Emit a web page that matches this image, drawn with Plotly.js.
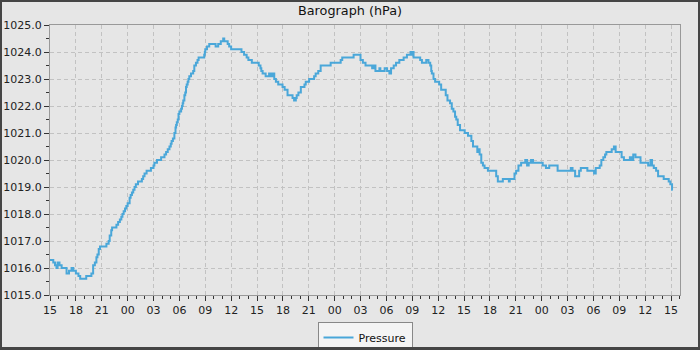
<!DOCTYPE html>
<html>
<head>
<meta charset="utf-8">
<script src="https://cdn.plot.ly/plotly-3.0.1.min.js"></script>
<style>
  html, body { margin: 0; padding: 0; background: #e6e6e6; }
  #wrap { position: relative; width: 700px; height: 350px; }
  #chart { width: 700px; height: 350px; }
  #frame { position: absolute; left: 0; top: 0; width: 700px; height: 350px; box-sizing: border-box;
           border-style: solid; border-color: #454545; border-width: 2px 2px 3px 2px; pointer-events: none; }
</style>
</head>
<body>
<div id="wrap"><div id="chart"></div><div id="frame"></div></div>
<script>
// Hours elapsed since the first sample (15:00 on day 1)
const hours = [
  0, 0.38, 0.58, 0.75, 0.88, 1.1, 1.35, 1.92, 2.2, 2.5, 2.7, 3.0, 3.3, 3.5, 4.2, 4.8, 5.0, 5.2, 5.38, 5.5,
  5.65, 5.8, 6.54, 6.8, 6.92, 7.1, 7.2, 7.7, 7.9, 8.1, 8.27, 8.4, 8.54, 8.7, 8.85, 9.0, 9.23, 9.35, 9.5, 9.65,
  9.8, 9.95, 10.2, 10.65, 10.8, 10.96, 11.2, 11.7, 12.0, 12.1, 12.4, 12.88, 13.27, 13.46, 13.65, 13.85, 14.0, 14.1, 14.25, 14.42,
  14.55, 14.62, 14.7, 14.81, 14.9, 15.0, 15.2, 15.3, 15.38, 15.45, 15.58, 15.68, 15.77, 15.85, 15.96, 16.05, 16.15, 16.35, 16.6, 16.73,
  16.92, 17.1, 17.23, 17.88, 17.95, 18.0, 18.2, 18.46, 19.2, 19.5, 19.8, 20.08, 20.2, 20.6, 20.77, 21.0, 22.2, 22.5, 22.8, 23.0,
  23.4, 24.2, 24.4, 24.5, 24.65, 25.0, 25.4, 25.6, 25.8, 26.0, 26.19, 26.46, 26.96, 27.2, 27.54, 28.12, 28.3, 28.5, 28.6, 28.8,
  29.08, 29.5, 29.65, 30.04, 30.62, 30.8, 31.1, 31.38, 32.54, 33.7, 33.88, 34.46, 35.2, 36.0, 36.27, 36.58, 37.35, 37.5, 37.73, 38.19,
  38.3, 38.8, 39.08, 39.35, 39.54, 39.85, 40.12, 40.5, 41.0, 41.38, 41.8, 42.0, 42.1, 42.15, 42.92, 43.12, 43.62, 43.88, 44.08, 44.2,
  44.27, 44.46, 44.65, 45.12, 45.35, 45.88, 46.08, 46.38, 46.58, 46.77, 46.96, 47.1, 47.27, 47.54, 48.08, 48.46, 48.85, 49.04, 49.54, 49.65,
  49.81, 50.0, 50.19, 50.38, 50.77, 51.35, 51.73, 51.92, 52.5, 53.2, 53.3, 53.85, 54.04, 54.31, 54.62, 55.1, 55.31, 55.5, 55.77, 56.0,
  57.12, 57.5, 57.88, 58.85, 60.38, 60.58, 60.88, 61.35, 61.54, 62.3, 63.08, 63.27, 63.73, 63.92, 64.15, 64.35, 64.5, 65.12, 65.38, 65.58,
  66.27, 66.54, 67.23, 67.42, 67.62, 67.88, 68.46, 69.35, 69.62, 69.8, 70.0, 70.27, 70.5, 71.15, 71.73, 71.92, 72.12, 72.2
];
const pressure = [
  1016.3, 1016.2, 1016.1, 1016.0, 1016.2, 1016.1, 1016.0, 1015.8, 1015.9, 1016.0, 1015.9, 1015.8, 1015.7, 1015.6, 1015.7, 1015.8, 1016.1, 1016.2, 1016.4, 1016.5,
  1016.7, 1016.8, 1016.9, 1017.0, 1017.2, 1017.4, 1017.5, 1017.6, 1017.7, 1017.8, 1017.9, 1018.0, 1018.1, 1018.2, 1018.3, 1018.4, 1018.6, 1018.7, 1018.8, 1018.9,
  1019.0, 1019.1, 1019.2, 1019.3, 1019.4, 1019.5, 1019.6, 1019.7, 1019.8, 1019.9, 1020.0, 1020.1, 1020.2, 1020.3, 1020.4, 1020.5, 1020.6, 1020.7, 1020.8, 1021.0,
  1021.2, 1021.3, 1021.4, 1021.5, 1021.7, 1021.8, 1021.9, 1022.0, 1022.1, 1022.2, 1022.4, 1022.5, 1022.7, 1022.8, 1022.9, 1023.0, 1023.1, 1023.2, 1023.3, 1023.5,
  1023.6, 1023.7, 1023.8, 1023.9, 1024.0, 1024.1, 1024.2, 1024.3, 1024.2, 1024.3, 1024.4, 1024.5, 1024.4, 1024.3, 1024.2, 1024.1, 1024.0, 1023.9, 1023.8, 1023.7,
  1023.6, 1023.5, 1023.4, 1023.3, 1023.2, 1023.1, 1023.2, 1023.1, 1023.2, 1023.0, 1022.9, 1022.8, 1022.7, 1022.6, 1022.4, 1022.3, 1022.2, 1022.3, 1022.4, 1022.5,
  1022.7, 1022.8, 1022.9, 1023.0, 1023.1, 1023.2, 1023.3, 1023.5, 1023.6, 1023.7, 1023.8, 1023.8, 1023.9, 1023.7, 1023.6, 1023.5, 1023.4, 1023.5, 1023.3, 1023.4,
  1023.3, 1023.4, 1023.3, 1023.2, 1023.4, 1023.5, 1023.6, 1023.7, 1023.8, 1023.9, 1024.0, 1023.9, 1024.0, 1023.8, 1023.7, 1023.6, 1023.7, 1023.6, 1023.5, 1023.3,
  1023.2, 1023.0, 1022.9, 1022.8, 1022.6, 1022.4, 1022.2, 1022.1, 1021.9, 1021.8, 1021.6, 1021.5, 1021.3, 1021.1, 1021.0, 1020.9, 1020.7, 1020.5, 1020.3, 1020.4,
  1020.2, 1019.9, 1019.8, 1019.7, 1019.6, 1019.6, 1019.4, 1019.2, 1019.3, 1019.2, 1019.3, 1019.5, 1019.6, 1019.8, 1019.9, 1020.0, 1019.8, 1019.9, 1020.0, 1019.9,
  1019.8, 1019.7, 1019.8, 1019.6, 1019.7, 1019.6, 1019.4, 1019.6, 1019.7, 1019.6, 1019.5, 1019.7, 1019.8, 1020.0, 1020.1, 1020.2, 1020.3, 1020.4, 1020.5, 1020.3,
  1020.1, 1020.0, 1020.1, 1020.0, 1020.2, 1020.1, 1019.9, 1019.8, 1020.0, 1019.8, 1019.7, 1019.6, 1019.4, 1019.3, 1019.2, 1019.1, 1018.9, 1018.9
];
const seriesName = 'Pressure';
const chartTitle = 'Barograph (hPa)';

const HOUR = 3600000;
const start = Date.UTC(2024, 0, 1, 15, 0, 0);
const xTimes = hours.map(h => start + h * HOUR);

const trace = {
  type: 'scatter', mode: 'lines', name: seriesName,
  x: xTimes, y: pressure,
  line: { color: '#4aa7d9', width: 2, shape: 'hv' },
  showlegend: true
};

const axisFont = { family: 'DejaVu Sans', size: 11, color: '#222' };
const layout = {
  width: 700, height: 350,
  margin: { l: 50, r: 20, t: 25, b: 55, autoexpand: false },
  paper_bgcolor: '#e6e6e6', plot_bgcolor: '#e6e6e6',
  font: { family: 'DejaVu Sans', size: 11, color: '#222' },
  title: { text: chartTitle, font: { family: 'DejaVu Sans', size: 12.8, color: '#111' },
           x: 0.5, xanchor: 'center', yref: 'container', y: 1 - 11 / 350, yanchor: 'middle' },
  xaxis: {
    type: 'date', range: [start, start + 73.04 * HOUR],
    tick0: start, dtick: 3 * HOUR, tickformat: '%H',
    ticks: 'outside', ticklen: 5, tickcolor: '#333', tickfont: axisFont,
    showline: true, linecolor: '#999', linewidth: 1, mirror: true,
    showgrid: true, gridcolor: '#c2c2c2', griddash: '4px,3px', gridwidth: 1,
    zeroline: false, automargin: false,
    minor: { dtick: HOUR, tick0: start, ticks: 'outside', ticklen: 3, tickcolor: '#333', showgrid: false }
  },
  yaxis: {
    range: [1015, 1025], dtick: 1, tick0: 1015, tickformat: '.1f',
    ticks: 'outside', ticklen: 5, tickcolor: '#333', tickfont: axisFont,
    showline: true, linecolor: '#999', linewidth: 1, mirror: true,
    showgrid: true, gridcolor: '#c2c2c2', griddash: '4px,3px', gridwidth: 1,
    zeroline: false, automargin: false,
    minor: { dtick: 0.5, ticks: 'outside', ticklen: 3, tickcolor: '#333', showgrid: false }
  },
  showlegend: true,
  legend: {
    orientation: 'h', x: 0.5, xanchor: 'center', yref: 'container', y: 1 - 322 / 350, yanchor: 'top',
    bgcolor: '#f4f4f4', bordercolor: '#888', borderwidth: 1,
    font: { family: 'DejaVu Sans', size: 11, color: '#111' }
  }
};

Plotly.newPlot('chart', [trace], layout, { displayModeBar: false, staticPlot: true });
</script>
</body>
</html>
